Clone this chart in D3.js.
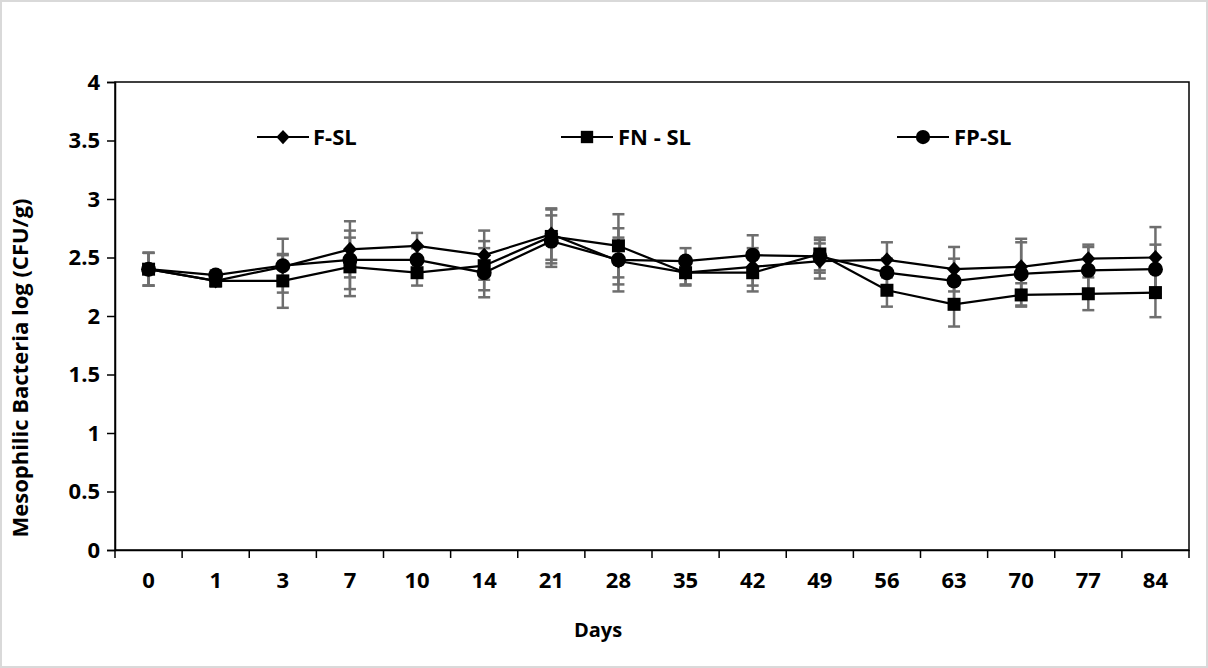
<!DOCTYPE html>
<html>
<head>
<meta charset="utf-8">
<script src="https://cdn.jsdelivr.net/npm/d3@7"></script>
<style>
  body { margin: 0; background: #fff; }
  text { font-family: "Open Sans", Lato, sans-serif; font-weight: 700; fill: #000; }
</style>
</head>
<body>
<div id="viz"></div>
<script>
// values
var days = ["0", "1", "3", "7", "10", "14", "21", "28", "35", "42", "49", "56", "63", "70", "77", "84"];
var yTicks = [0, 0.5, 1, 1.5, 2, 2.5, 3, 3.5, 4];

var fsl     = [2.40, 2.30, 2.42, 2.57, 2.60, 2.52, 2.70, 2.47, 2.37, 2.42, 2.47, 2.48, 2.40, 2.42, 2.49, 2.50];
var fslErr  = [0.14, 0.05, 0.10, 0.24, 0.11, 0.21, 0.22, 0.20, 0.10, 0.16, 0.15, 0.15, 0.19, 0.24, 0.12, 0.26];
var fnsl    = [2.40, 2.30, 2.30, 2.42, 2.37, 2.43, 2.68, 2.60, 2.37, 2.37, 2.53, 2.22, 2.10, 2.18, 2.19, 2.20];
var fnslErr = [0.14, 0.04, 0.23, 0.25, 0.11, 0.21, 0.23, 0.27, 0.11, 0.16, 0.14, 0.14, 0.19, 0.10, 0.14, 0.21];
var fpsl    = [2.40, 2.35, 2.43, 2.48, 2.48, 2.37, 2.64, 2.48, 2.47, 2.52, 2.51, 2.37, 2.30, 2.36, 2.39, 2.40];
var fpslErr = [0.14, 0.04, 0.23, 0.25, 0.10, 0.21, 0.22, 0.27, 0.11, 0.17, 0.14, 0.12, 0.19, 0.27, 0.20, 0.21];

var series = [
  { name: "F-SL",    values: fsl,  errors: fslErr,  shape: "diamond", lx: 257, tx: 313 },
  { name: "FN - SL", values: fnsl, errors: fnslErr, shape: "square",  lx: 561, tx: 618 },
  { name: "FP-SL",   values: fpsl, errors: fpslErr, shape: "circle",  lx: 897, tx: 954 }
];

// dimensions
var width = 1208, height = 668;
var plotLeft = 115, plotRight = 1189, plotTop = 82, plotBottom = 550;

var svg = d3.select("#viz").append("svg")
    .attr("width", width)
    .attr("height", height);

// outer light border
svg.append("rect")
    .attr("x", 1).attr("y", 1)
    .attr("width", width - 2).attr("height", height - 2)
    .attr("fill", "#fff")
    .attr("stroke", "#d9d9d9")
    .attr("stroke-width", 2);

var x = d3.scaleBand().domain(days).range([plotLeft, plotRight]);
var y = d3.scaleLinear().domain([0, 4]).range([plotBottom, plotTop]);

// plot frame
svg.append("rect")
    .attr("x", plotLeft).attr("y", plotTop)
    .attr("width", plotRight - plotLeft).attr("height", plotBottom - plotTop)
    .attr("fill", "none")
    .attr("stroke", "#000")
    .attr("stroke-width", 1.5);

// y axis
var yAxis = svg.append("g")
    .attr("transform", "translate(" + plotLeft + ",0)")
    .call(d3.axisLeft(y).tickValues(yTicks).tickSize(8).tickPadding(7).tickFormat(d3.format("")));
yAxis.select(".domain").attr("stroke-width", 1.5);
yAxis.selectAll(".tick line").attr("stroke-width", 1.5);
yAxis.selectAll("text").style("font-size", "22px");

// x axis: labels centred in bands, ticks on band edges
var xAxis = svg.append("g")
    .attr("transform", "translate(0," + plotBottom + ")")
    .call(d3.axisBottom(x).tickSize(0).tickPadding(22));
xAxis.select(".domain").attr("stroke-width", 1.5);
xAxis.selectAll("text").style("font-size", "22px");

var edges = days.map(function(d) { return x(d); }).concat([plotRight]);
svg.append("g").selectAll("line")
    .data(edges)
    .enter().append("line")
    .attr("x1", function(d) { return d; })
    .attr("x2", function(d) { return d; })
    .attr("y1", plotBottom)
    .attr("y2", plotBottom + 8)
    .attr("stroke", "#000")
    .attr("stroke-width", 1.5);

// axis titles
svg.append("text")
    .attr("x", 598)
    .attr("y", 637)
    .attr("text-anchor", "middle")
    .style("font-size", "20px")
    .text("Days");

svg.append("text")
    .attr("transform", "translate(28,368) rotate(-90)")
    .attr("text-anchor", "middle")
    .style("font-size", "22px")
    .text("Mesophilic Bacteria log (CFU/g)");

function cx(i) { return x(days[i]) + x.bandwidth() / 2; }

function marker(sel, shape, s) {
  if (shape === "circle") {
    sel.append("circle").attr("r", 7.5 * s).attr("fill", "#000");
  } else if (shape === "square") {
    sel.append("rect").attr("x", -6.5 * s).attr("y", -6.5 * s)
      .attr("width", 13 * s).attr("height", 13 * s).attr("fill", "#000");
  } else {
    var w = 7 * s, h = 7.5 * s;
    sel.append("path").attr("d", "M0," + (-h) + "L" + w + ",0L0," + h + "L" + (-w) + ",0Z").attr("fill", "#000");
  }
}

// error bars first (behind)
series.forEach(function(s) {
  var g = svg.append("g").attr("stroke", "#6e6e6e").attr("stroke-width", 2.5);
  s.values.forEach(function(v, i) {
    var e = s.errors[i];
    var xc = cx(i);
    g.append("line").attr("x1", xc).attr("x2", xc).attr("y1", y(v - e)).attr("y2", y(v + e));
    g.append("line").attr("x1", xc - 6).attr("x2", xc + 6).attr("y1", y(v + e)).attr("y2", y(v + e));
    g.append("line").attr("x1", xc - 6).attr("x2", xc + 6).attr("y1", y(v - e)).attr("y2", y(v - e));
  });
});

var line = d3.line()
    .x(function(d, i) { return cx(i); })
    .y(function(d) { return y(d); });

series.forEach(function(s) {
  svg.append("path")
    .datum(s.values)
    .attr("d", line)
    .attr("fill", "none")
    .attr("stroke", "#000")
    .attr("stroke-width", 2.25);

  s.values.forEach(function(v, i) {
    var m = svg.append("g").attr("transform", "translate(" + cx(i) + "," + y(v) + ")");
    marker(m, s.shape, 1);
  });
});

// legend
var ly = 137;
series.forEach(function(s) {
  svg.append("line")
    .attr("x1", s.lx).attr("x2", s.lx + 52)
    .attr("y1", ly).attr("y2", ly)
    .attr("stroke", "#000").attr("stroke-width", 2);
  var m = svg.append("g").attr("transform", "translate(" + (s.lx + 26) + "," + ly + ")");
  marker(m, s.shape, 0.95);
  svg.append("text")
    .attr("x", s.tx).attr("y", ly)
    .attr("dy", "0.35em")
    .style("font-size", "22px")
    .text(s.name);
});
</script>
</body>
</html>
